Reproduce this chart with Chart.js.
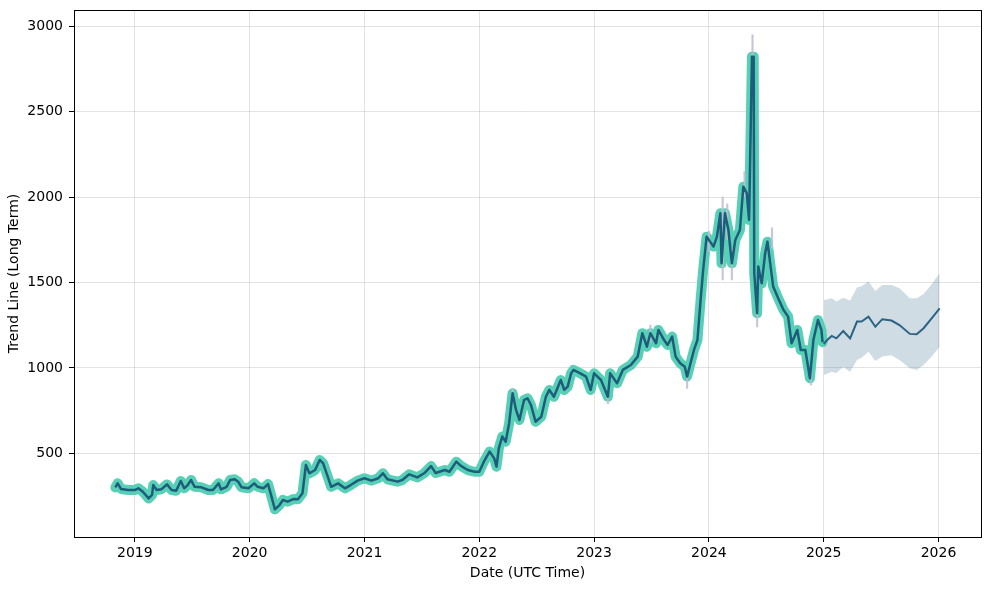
<!DOCTYPE html>
<html lang="en">
<head>
<meta charset="utf-8">
<title>Trend Line (Long Term)</title>
<script src="https://cdn.jsdelivr.net/npm/chart.js@4.4.0/dist/chart.umd.min.js"></script>
<style>
  body { margin: 0; background: #fff; }
  #wrap { width: 989px; height: 590px; }
</style>
</head>
<body>
<div id="wrap"><canvas id="trend-chart"></canvas></div>
<script>
// history (decimal years) and trend values
var histYears = [
  2018.83, 2018.85, 2018.88, 2018.94, 2019.00, 2019.03, 2019.07, 2019.12, 2019.15, 2019.16,
  2019.19, 2019.23, 2019.28, 2019.32, 2019.36, 2019.40, 2019.43, 2019.46, 2019.49, 2019.52,
  2019.58, 2019.64, 2019.68, 2019.73, 2019.75, 2019.80, 2019.83, 2019.87, 2019.90, 2019.93,
  2019.99, 2020.04, 2020.07, 2020.12, 2020.16, 2020.19, 2020.22, 2020.26, 2020.29, 2020.33,
  2020.38, 2020.42, 2020.46, 2020.49, 2020.52, 2020.57, 2020.61, 2020.64, 2020.68, 2020.71,
  2020.77, 2020.83, 2020.88, 2020.94, 2021.00, 2021.06, 2021.12, 2021.16, 2021.20, 2021.29,
  2021.33, 2021.39, 2021.46, 2021.52, 2021.58, 2021.62, 2021.70, 2021.74, 2021.80, 2021.83,
  2021.85, 2021.90, 2021.96, 2022.00, 2022.04, 2022.09, 2022.13, 2022.15, 2022.17, 2022.20,
  2022.23, 2022.26, 2022.29, 2022.32, 2022.35, 2022.39, 2022.42, 2022.45, 2022.49, 2022.54,
  2022.58, 2022.61, 2022.65, 2022.71, 2022.74, 2022.77, 2022.80, 2022.82, 2022.88, 2022.93,
  2022.97, 2023.00, 2023.06, 2023.12, 2023.14, 2023.20, 2023.25, 2023.32, 2023.38, 2023.42,
  2023.46, 2023.49, 2023.54, 2023.56, 2023.61, 2023.64, 2023.68, 2023.71, 2023.75, 2023.79,
  2023.81, 2023.84, 2023.87, 2023.90, 2023.93, 2023.95, 2023.98, 2024.01, 2024.04, 2024.07,
  2024.10, 2024.11, 2024.14, 2024.17, 2024.20, 2024.23, 2024.27, 2024.30, 2024.33, 2024.35,
  2024.375, 2024.39, 2024.395, 2024.42, 2024.43, 2024.46, 2024.49, 2024.51, 2024.53, 2024.56,
  2024.61, 2024.65, 2024.69, 2024.72, 2024.77, 2024.80, 2024.84, 2024.88, 2024.91, 2024.95,
  2024.98, 2024.99
];
var histValues = [
  300, 324, 291, 285, 285, 295, 275, 236, 256, 314,
  285, 289, 318, 285, 281, 338, 295, 314, 344, 304,
  301, 285, 285, 324, 289, 304, 344, 348, 334, 301,
  295, 324, 304, 295, 320, 246, 172, 197, 227, 217,
  232, 231, 266, 432, 383, 402, 461, 441, 363, 304,
  324, 295, 314, 340, 354, 340, 354, 383, 348, 334,
  344, 377, 359, 383, 425, 385, 402, 392, 451, 432,
  422, 402, 392, 392, 451, 510, 470, 422, 529, 598,
  568, 676, 851, 754, 695, 812, 822, 783, 685, 714,
  831, 871, 831, 929, 871, 890, 968, 988, 968, 949,
  871, 968, 929, 831, 968, 910, 988, 1017, 1066, 1203,
  1124, 1203, 1144, 1222, 1163, 1134, 1183, 1066, 1027, 1007,
  949, 1027, 1105, 1163, 1417, 1573, 1768, 1739, 1710, 1768,
  1905, 1612, 1905, 1807, 1612, 1749, 1807, 2061, 2022, 1866,
  2822, 2822, 1554, 1320, 1593, 1495, 1671, 1739, 1632, 1476,
  1398, 1339, 1300, 1144, 1222, 1105, 1105, 939, 1163, 1280,
  1222, 1150
];

// forecast
var fcYears = [2025.00, 2025.03, 2025.07, 2025.11, 2025.17, 2025.23, 2025.29, 2025.33, 2025.39,
               2025.45, 2025.51, 2025.59, 2025.66, 2025.75, 2025.81, 2025.87, 2025.94, 2026.01];
var fcValues = [1140, 1163, 1187, 1173, 1216, 1173, 1271, 1271, 1300,
                1241, 1285, 1277, 1251, 1199, 1197, 1232, 1290, 1349];
var fcUpper  = [1398, 1400, 1407, 1388, 1410, 1395, 1470, 1478, 1505,
                1450, 1485, 1485, 1466, 1407, 1407, 1432, 1490, 1554];
var fcLower  = [958, 965, 978, 970, 1005, 978, 1046, 1060, 1095,
                1040, 1066, 1074, 1046, 998, 988, 1017, 1066, 1124];

// grey range whiskers that show past the thick line
var whiskerYears = [2022.29, 2023.12, 2023.49, 2023.81, 2024.00, 2024.12, 2024.16, 2024.20, 2024.31, 2024.38, 2024.42, 2024.55, 2024.89];
var whiskerLow   = [800, 790, 1150, 880, 1680, 1515, 1750, 1515, 2000, 2800, 1240, 1700, 900];
var whiskerHigh  = [880, 860, 1250, 960, 1800, 2000, 1960, 1700, 2150, 2950, 1350, 1820, 1000];

var xTicks = [2019, 2020, 2021, 2022, 2023, 2024, 2025, 2026];
var yTicks = [500, 1000, 1500, 2000, 2500, 3000];

function toXY(xs, ys) {
  return xs.map(function (x, i) { return {x: x, y: ys[i]}; });
}

var tickFont = {family: 'DejaVu Sans', size: 14};

// matplotlib-style box round the plot area
var framePlugin = {
  id: 'frame',
  afterDraw: function (chart) {
    var a = chart.chartArea, ctx = chart.ctx;
    ctx.save();
    ctx.strokeStyle = '#000';
    ctx.lineWidth = 1;
    ctx.strokeRect(Math.round(a.left) + 0.5, Math.round(a.top) + 0.5,
                   Math.round(a.right - a.left), Math.round(a.bottom - a.top));
    ctx.restore();
  }
};

new Chart(document.getElementById('trend-chart'), {
  type: 'line',
  data: {
    datasets: [
      {
        label: 'history',
        data: toXY(histYears, histValues),
        borderColor: '#1e5c7b',
        borderWidth: 2.5,
        borderJoinStyle: 'round',
        pointRadius: 0,
        order: 1
      },
      {
        label: 'range',
        type: 'bar',
        data: whiskerYears.map(function (x, i) { return {x: x, y: [whiskerLow[i], whiskerHigh[i]]}; }),
        backgroundColor: 'rgba(190,188,210,0.85)',
        barThickness: 1.5,
        order: 2
      },
      {
        label: 'history band',
        data: toXY(histYears, histValues),
        borderColor: '#58d0b6',
        borderWidth: 10,
        borderJoinStyle: 'round',
        borderCapStyle: 'round',
        pointRadius: 0,
        order: 3
      },
      {
        label: 'forecast',
        data: toXY(fcYears, fcValues),
        borderColor: '#2a6384',
        borderWidth: 2,
        pointRadius: 0,
        order: 1
      },
      {
        label: 'upper',
        data: toXY(fcYears, fcUpper),
        borderWidth: 0,
        pointRadius: 0,
        fill: '+1',
        backgroundColor: 'rgba(40,95,130,0.22)',
        order: 5
      },
      {
        label: 'lower',
        data: toXY(fcYears, fcLower),
        borderWidth: 0,
        pointRadius: 0,
        fill: false,
        order: 5
      }
    ]
  },
  plugins: [framePlugin],
  options: {
    responsive: true,
    maintainAspectRatio: false,
    animation: false,
    layout: {padding: {top: 10, right: 8, left: 0, bottom: 0}},
    plugins: {legend: {display: false}, tooltip: {enabled: false}},
    scales: {
      x: {
        type: 'linear',
        min: 2018.47,
        max: 2026.37,
        offset: false,
        afterBuildTicks: function (s) { s.ticks = xTicks.map(function (v) { return {value: v}; }); },
        afterFit: function (s) { s.height = 53; s.paddingLeft = 0; s.paddingRight = 0; },
        ticks: {
          callback: function (v) { return String(v); },
          font: tickFont, color: '#000', padding: 3, maxRotation: 0, autoSkip: false
        },
        grid: {color: 'rgba(0,0,0,0.11)', tickColor: '#000', tickLength: 5, offset: false},
        border: {display: false},
        title: {display: true, text: 'Date (UTC Time)', color: '#000', font: tickFont, padding: {top: 4, bottom: 8}}
      },
      y: {
        type: 'linear',
        min: 10,
        max: 3095,
        afterBuildTicks: function (s) { s.ticks = yTicks.map(function (v) { return {value: v}; }); },
        afterFit: function (s) { s.width = 74; s.paddingTop = 0; s.paddingBottom = 0; },
        ticks: {
          callback: function (v) { return String(v); },
          font: tickFont, color: '#000', padding: 6
        },
        grid: {color: 'rgba(0,0,0,0.11)', tickColor: '#000', tickLength: 5},
        border: {display: false},
        title: {display: true, text: 'Trend Line (Long Term)', color: '#000', font: tickFont, padding: {top: 6, bottom: 4}}
      }
    }
  }
});
</script>
</body>
</html>
